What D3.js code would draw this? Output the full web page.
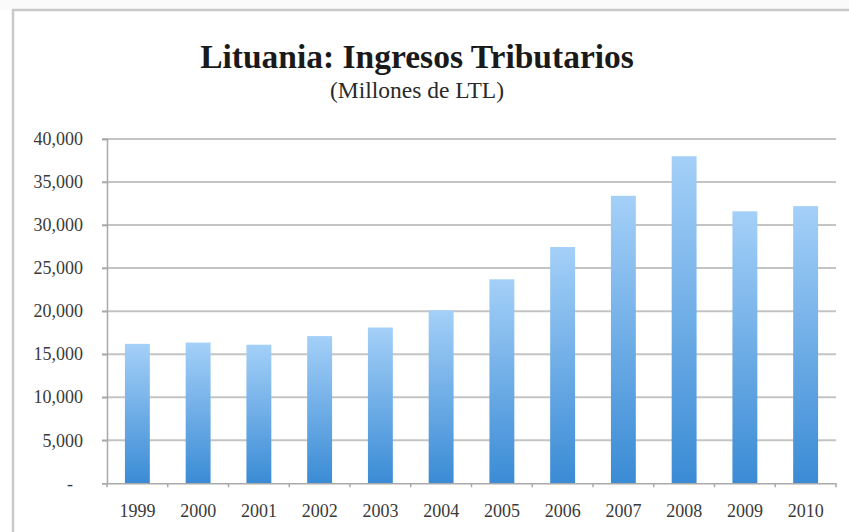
<!DOCTYPE html>
<html>
<head>
<meta charset="utf-8">
<script src="https://cdn.jsdelivr.net/npm/d3@7"></script>
<style>
  html, body { margin: 0; padding: 0; background: #ffffff; }
  svg { display: block; }
</style>
</head>
<body>
<svg id="chart" width="849" height="532"></svg>
<script>
// Tax revenue of Lithuania, millions of litas (LTL)
const years = ["1999", "2000", "2001", "2002", "2003", "2004", "2005", "2006", "2007", "2008", "2009", "2010"];
const revenue = [16200, 16350, 16100, 17100, 18100, 20100, 23700, 27450, 33400, 38000, 31600, 32200];
const yTicks = [0, 5000, 10000, 15000, 20000, 25000, 30000, 35000, 40000];

const titleText = "Lituania: Ingresos Tributarios";
const subtitleText = "(Millones de LTL)";

const svg = d3.select("#chart");
const W = 849, H = 532;
const serif = "'Liberation Serif', 'Times New Roman', serif";

// outer frame of the chart object
svg.append("rect").attr("x", 0).attr("y", 0).attr("width", W).attr("height", 10).attr("fill", "#fafafa");
svg.append("path")
  .attr("d", `M13,${H} V10 H${W}`)
  .attr("fill", "none")
  .attr("stroke", "#c9c9c9")
  .attr("stroke-width", 2.5);

const plot = { left: 107, right: 836, top: 139, bottom: 483.3 };

const x = d3.scaleBand()
  .domain(years)
  .range([plot.left, plot.right])
  .paddingInner(0.59)
  .paddingOuter(0.295);

const y = d3.scaleLinear()
  .domain([0, 40000])
  .range([plot.bottom, plot.top]);

// per-bar vertical gradient
const defs = svg.append("defs");
const grad = defs.append("linearGradient")
  .attr("id", "barFill")
  .attr("x1", 0).attr("y1", 0).attr("x2", 0).attr("y2", 1);
grad.append("stop").attr("offset", "0%").attr("stop-color", "#a4d0f8");
grad.append("stop").attr("offset", "100%").attr("stop-color", "#3a8bd5");

// horizontal gridlines
svg.append("g")
  .selectAll("line")
  .data(yTicks.filter(d => d > 0))
  .join("line")
  .attr("x1", plot.left - 5)
  .attr("x2", plot.right)
  .attr("y1", d => y(d))
  .attr("y2", d => y(d))
  .attr("stroke", "#c4c4c4")
  .attr("stroke-width", 2);

// bars
svg.append("g")
  .selectAll("rect")
  .data(years.map((yr, i) => ({ yr, v: revenue[i] })))
  .join("rect")
  .attr("x", d => x(d.yr))
  .attr("width", x.bandwidth())
  .attr("y", d => y(d.v))
  .attr("height", d => y(0) - y(d.v))
  .attr("fill", "url(#barFill)");

// y axis
const yAxis = d3.axisLeft(y)
  .tickValues(yTicks)
  .tickSize(5)
  .tickPadding(19)
  .tickFormat(d => d === 0 ? "-" : d3.format(",")(d));

const gy = svg.append("g")
  .attr("transform", `translate(${plot.left},0)`)
  .call(yAxis);
gy.select(".domain").attr("stroke", "#a9a9a9").attr("stroke-width", 1.5);
gy.selectAll(".tick line").attr("stroke", "#a9a9a9").attr("stroke-width", 1.5);
gy.selectAll(".tick text")
  .attr("font-family", serif)
  .attr("font-size", 18)
  .attr("fill", "#3a3a3a")
  .attr("dx", d => d === 0 ? -10 : 0);

// x axis with ticks between categories
const xAxis = d3.axisBottom(x).tickSize(0).tickPadding(21);
const gx = svg.append("g")
  .attr("transform", `translate(0,${plot.bottom})`)
  .call(xAxis);
gx.select(".domain").attr("stroke", "#a9a9a9").attr("stroke-width", 1.5);
gx.selectAll(".tick text")
  .attr("font-family", serif)
  .attr("font-size", 18)
  .attr("fill", "#3a3a3a");

const step = x.step();
const firstEdge = x(years[0]) - x.paddingOuter() * step;
gx.append("g")
  .selectAll("line")
  .data(d3.range(years.length + 1))
  .join("line")
  .attr("x1", i => firstEdge + i * step)
  .attr("x2", i => firstEdge + i * step)
  .attr("y1", 0)
  .attr("y2", 4)
  .attr("stroke", "#a9a9a9")
  .attr("stroke-width", 1.5);

// titles
svg.append("text")
  .attr("x", 417)
  .attr("y", 68)
  .attr("text-anchor", "middle")
  .attr("font-family", serif)
  .attr("font-weight", "bold")
  .attr("font-size", 33.5)
  .attr("fill", "#1a1a1a")
  .text(titleText);

svg.append("text")
  .attr("x", 417)
  .attr("y", 98)
  .attr("text-anchor", "middle")
  .attr("font-family", serif)
  .attr("font-size", 23.5)
  .attr("fill", "#2a2a2a")
  .text(subtitleText);
</script>
</body>
</html>
